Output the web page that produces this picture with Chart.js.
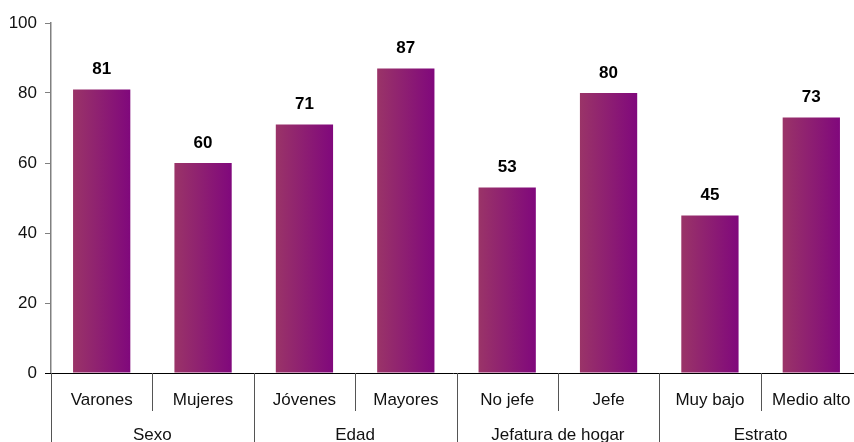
<!DOCTYPE html>
<html>
<head>
<meta charset="utf-8">
<script src="https://cdn.jsdelivr.net/npm/chart.js@4/dist/chart.umd.min.js"></script>
<style>
html,body{margin:0;padding:0;background:#fff;overflow:hidden;}
#wrap{width:862px;height:442px;position:relative;}
</style>
</head>
<body>
<div id="wrap"><canvas id="c"></canvas></div>
<script>
const categories = ["Varones","Mujeres","Jóvenes","Mayores","No jefe","Jefe","Muy bajo","Medio alto"];
const values = [81,60,71,87,53,80,45,73];
const groups = ["Sexo","Edad","Jefatura de hogar","Estrato"];
const groupSizes = [2,2,2,2];
const yTicks = [0,20,40,60,80,100];

const FONT = "'Liberation Sans', Arial, sans-serif";
const BAR_PCT = 0.565;

const overlay = {
  id: 'overlay',
  afterDatasetsDraw(chart) {
    const ctx = chart.ctx;
    const x = chart.scales.x;
    const area = chart.chartArea;
    const n = categories.length;
    const catW = (area.right - area.left) / n;
    ctx.save();
    ctx.fillStyle = '#000';
    ctx.font = 'bold 17px ' + FONT;
    ctx.textAlign = 'center';
    ctx.textBaseline = 'middle';
    const meta = chart.getDatasetMeta(0);
    meta.data.forEach((bar, i) => {
      ctx.fillText(String(values[i]), bar.x, bar.y - 20);
    });
    ctx.strokeStyle = '#000';
    ctx.lineWidth = 1;
    ctx.beginPath();
    ctx.moveTo(area.left - 6, Math.round(area.bottom) + 0.5);
    ctx.lineTo(chart.width, Math.round(area.bottom) + 0.5);
    ctx.stroke();
    ctx.strokeStyle = '#555';
    let idx = 0;
    const groupBounds = [0];
    groupSizes.forEach(s => { idx += s; groupBounds.push(idx); });
    for (let k = 0; k <= n; k++) {
      const sx = Math.round(area.left + k * catW) + 0.5;
      const isGroup = groupBounds.includes(k);
      ctx.beginPath();
      ctx.moveTo(sx, area.bottom);
      ctx.lineTo(sx, isGroup ? chart.height : area.bottom + 38);
      ctx.stroke();
    }
    ctx.fillStyle = '#111';
    ctx.font = '17px ' + FONT;
    categories.forEach((c, i) => {
      ctx.fillText(c, x.getPixelForValue(i), area.bottom + 27);
    });
    let start = 0;
    groups.forEach((g, gi) => {
      const s = groupSizes[gi];
      const cx = area.left + (start + s / 2) * catW;
      ctx.fillText(g, cx, area.bottom + 62);
      start += s;
    });
    ctx.restore();
  }
};

new Chart(document.getElementById('c'), {
  type: 'bar',
  data: {
    labels: categories,
    datasets: [{
      data: values,
      barPercentage: BAR_PCT,
      categoryPercentage: 1,
      backgroundColor(context) {
        const chart = context.chart;
        const area = chart.chartArea;
        const xs = chart.scales && chart.scales.x;
        if (!area || !xs || context.dataIndex === undefined) return '#8a1f73';
        const cx = xs.getPixelForValue(context.dataIndex);
        const w = (area.right - area.left) / categories.length * BAR_PCT;
        if (!isFinite(cx) || !isFinite(w)) return '#8a1f73';
        const g = chart.ctx.createLinearGradient(cx - w / 2, 0, cx + w / 2, 0);
        g.addColorStop(0, '#9a3468');
        g.addColorStop(1, '#80087c');
        return g;
      },
      borderWidth: 0
    }]
  },
  options: {
    responsive: true,
    maintainAspectRatio: false,
    animation: false,
    layout: { padding: { top: 23, right: 0, left: 0, bottom: 0 } },
    plugins: { legend: { display: false }, tooltip: { enabled: false } },
    scales: {
      x: {
        grid: { display: false },
        border: { display: false },
        ticks: { display: false },
        afterFit(s) { s.height = 69; }
      },
      y: {
        min: 0, max: 100,
        afterBuildTicks(s) { s.ticks = yTicks.map(v => ({ value: v })); },
        ticks: { color: '#111', font: { family: FONT, size: 17 }, padding: 8 },
        grid: { drawOnChartArea: false, drawTicks: true, tickLength: 6, color: '#808080' },
        border: { color: '#808080', width: 1.5 },
        afterFit(s) { s.width = 51; }
      }
    }
  },
  plugins: [overlay]
});
</script>
</body>
</html>
